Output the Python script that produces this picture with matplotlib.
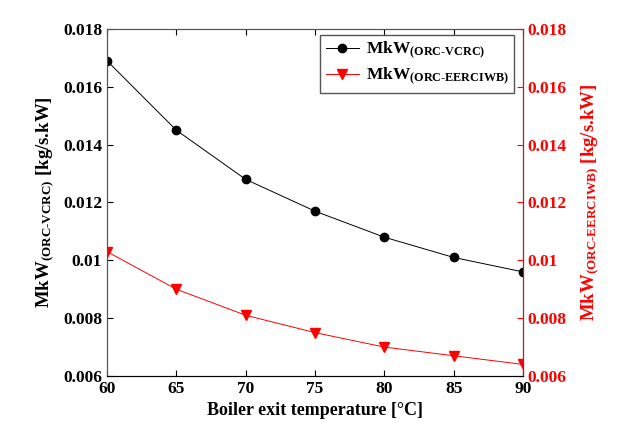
import matplotlib
matplotlib.use("Agg")
import matplotlib.pyplot as plt

plt.rcParams['font.family'] = ['Liberation Serif', 'DejaVu Serif']
plt.rcParams['font.weight'] = 'bold'
plt.rcParams['mathtext.fontset'] = 'custom'
plt.rcParams['mathtext.rm'] = 'Liberation Serif:bold'
plt.rcParams['mathtext.bf'] = 'Liberation Serif:bold'
plt.rcParams['mathtext.it'] = 'Liberation Serif:bold'

# data
temps = [60, 65, 70, 75, 80, 85, 90]
mkw_vcrc = [0.0169, 0.0145, 0.0128, 0.0117, 0.0108, 0.0101, 0.0096]
mkw_eerciwb = [0.0103, 0.0090, 0.0081, 0.0075, 0.0070, 0.0067, 0.0064]
y_ticks = [0.006, 0.008, 0.01, 0.012, 0.014, 0.016, 0.018]
y_ticklabels = ['0.006', '0.008', '0.01', '0.012', '0.014', '0.016', '0.018']

fig = plt.figure(figsize=(6.2, 4.25), dpi=100)
ax = fig.add_axes([0.1726, 0.1153, 0.6709, 0.8165])
ax2 = ax.twinx()

l1, = ax.plot(temps, mkw_vcrc, color='black', lw=0.7, marker='o', ms=6,
              label=r'MkW$_{\mathrm{(ORC\text{-}VCRC)}}$')
l2, = ax2.plot(temps, mkw_eerciwb, color='red', lw=0.7, marker='v', ms=7,
               label=r'MkW$_{\mathrm{(ORC\text{-}EERCIWB)}}$')

for a in (ax, ax2):
    a.set_ylim(0.006, 0.018)
    a.set_yticks(y_ticks)
    a.set_yticklabels(y_ticklabels, fontsize=12.5, fontweight='bold')
ax.set_xlim(60, 90)
ax.set_xticks(temps)
ax.set_xticklabels([str(t) for t in temps], fontsize=12.5, fontweight='bold')

ax.tick_params(direction='in', top=True, length=4, colors='black')
ax.tick_params(axis='y', right=False)
ax2.tick_params(axis='y', direction='in', length=4, colors='red')
for s in ('left', 'bottom', 'top'):
    ax.spines[s].set_color('#555555')
ax2.spines['right'].set_color('red')
ax2.spines['left'].set_color('#555555')
ax2.spines['top'].set_color('#555555')

ax.set_xlabel('Boiler exit temperature [°C]', fontsize=13, fontweight='bold', labelpad=4)
ax.set_ylabel(r'MkW$_{\mathrm{(ORC\text{-}VCRC)}}$ [kg/s.kW]', fontsize=13.5,
              fontweight='bold', labelpad=5)
ax2.set_ylabel(r'MkW$_{\mathrm{(ORC\text{-}EERCIWB)}}$ [kg/s.kW]', fontsize=13.5,
               fontweight='bold', color='red', rotation=90, labelpad=9)

leg = ax.legend(handles=[l1, l2], loc='upper right', fontsize=12.5,
                fancybox=False, edgecolor='#555555', framealpha=1,
                bbox_to_anchor=(0.978, 0.983), borderaxespad=0,
                handlelength=1.9, labelspacing=0.3, borderpad=0.3,
                handletextpad=0.4)
for t in leg.get_texts():
    t.set_fontweight('bold')

fig.savefig('out.png', dpi=100)
